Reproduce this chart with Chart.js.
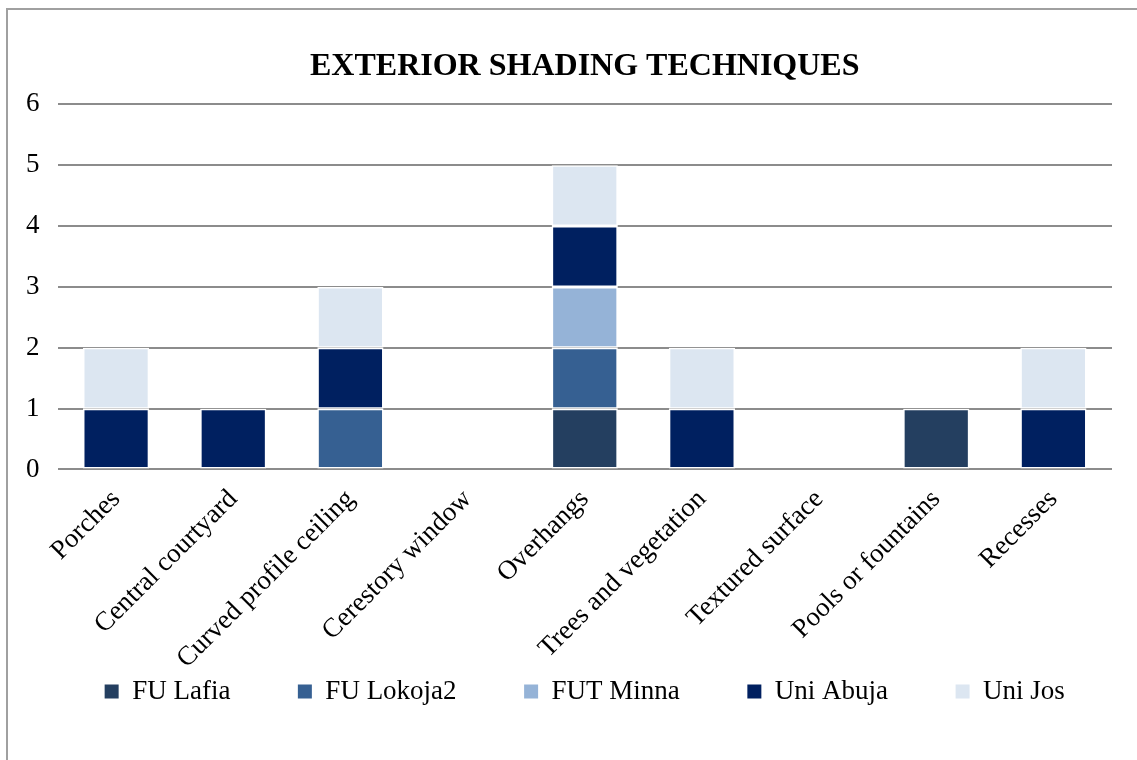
<!DOCTYPE html>
<html>
<head>
<meta charset="utf-8">
<script src="https://cdn.jsdelivr.net/npm/chart.js@4"></script>
<style>
  html, body { margin: 0; padding: 0; background: #fff; overflow: hidden; }
  #frame { position: absolute; left: 6px; top: 8px; width: 1300px; height: 900px;
           border-left: 2px solid #a0a0a0; border-top: 2px solid #a0a0a0; }
  #wrap { position: absolute; left: 0; top: 0; width: 1137px; height: 760px; }
</style>
</head>
<body>
<div id="frame"></div>
<div id="wrap"><canvas id="myChart"></canvas></div>
<script>
const categories = ['Porches', 'Central courtyard', 'Curved profile ceiling', 'Cerestory window',
  'Overhangs', 'Trees and vegetation', 'Textured surface', 'Pools or fountains', 'Recesses'];
const fuLafia   = [0, 0, 0, 0, 1, 0, 0, 1, 0];
const fuLokoja2 = [0, 0, 1, 0, 1, 0, 0, 0, 0];
const futMinna  = [0, 0, 0, 0, 1, 0, 0, 0, 0];
const uniAbuja  = [1, 1, 1, 0, 1, 1, 0, 0, 1];
const uniJos    = [1, 0, 1, 0, 1, 1, 0, 0, 1];
const yTicks = [0, 1, 2, 3, 4, 5, 6];

const font = 'Liberation Serif, Times New Roman, serif';
const gapSpaces = '          '; // widens the space between legend items, not their height

function series(label, data, color) {
  return {
    label: label,
    data: data,
    backgroundColor: color,
    borderColor: '#ffffff',
    borderWidth: 1.5,
    borderSkipped: false,
    categoryPercentage: 1.0,
    barPercentage: 0.565
  };
}

document.addEventListener('DOMContentLoaded', function () {
  const ctx = document.getElementById('myChart');
  new Chart(ctx, {
    type: 'bar',
    data: {
      labels: categories,
      datasets: [
        series('FU Lafia', fuLafia, '#243f60'),
        series('FU Lokoja2', fuLokoja2, '#366092'),
        series('FUT Minna', futMinna, '#95b3d7'),
        series('Uni Abuja', uniAbuja, '#002060'),
        series('Uni Jos', uniJos, '#dce6f1')
      ]
    },
    options: {
      responsive: true,
      maintainAspectRatio: false,
      animation: false,
      layout: { padding: { left: 8, right: 25, top: 48, bottom: 45 } },
      plugins: {
        title: {
          display: true,
          fullSize: false,
          text: 'EXTERIOR SHADING TECHNIQUES',
          color: '#000',
          font: { family: font, size: 32, weight: 'bold' },
          padding: { top: 0, bottom: 18 }
        },
        legend: {
          position: 'bottom',
          fullSize: false,
          labels: {
            color: '#000',
            font: { family: font, size: 27 },
            boxWidth: 14,
            boxHeight: 14,
            padding: 0,
            generateLabels: function (chart) {
              const items = Chart.defaults.plugins.legend.labels.generateLabels(chart);
              items.forEach(function (it, i) {
                it.strokeStyle = it.fillStyle;
                it.lineWidth = 0;
                if (i < items.length - 1) it.text = it.text + gapSpaces;
              });
              return items;
            }
          }
        },
        tooltip: { enabled: false }
      },
      scales: {
        x: {
          stacked: true,
          grid: { display: false, drawTicks: false },
          border: { display: false },
          afterFit: function (scale) { scale.height -= 11; },
          ticks: {
            color: '#000',
            font: { family: font, size: 27 },
            maxRotation: 45,
            minRotation: 45,
            autoSkip: false,
            padding: 14
          }
        },
        y: {
          stacked: true,
          min: 0,
          max: 6,
          afterBuildTicks: function (axis) {
            axis.ticks = yTicks.map(function (v) { return { value: v }; });
          },
          grid: { color: '#8c8c8c', lineWidth: 2, drawTicks: false },
          border: { display: false },
          ticks: {
            color: '#000',
            font: { family: font, size: 27 },
            padding: 18,
            stepSize: 1
          }
        }
      }
    }
  });
});
</script>
</body>
</html>
